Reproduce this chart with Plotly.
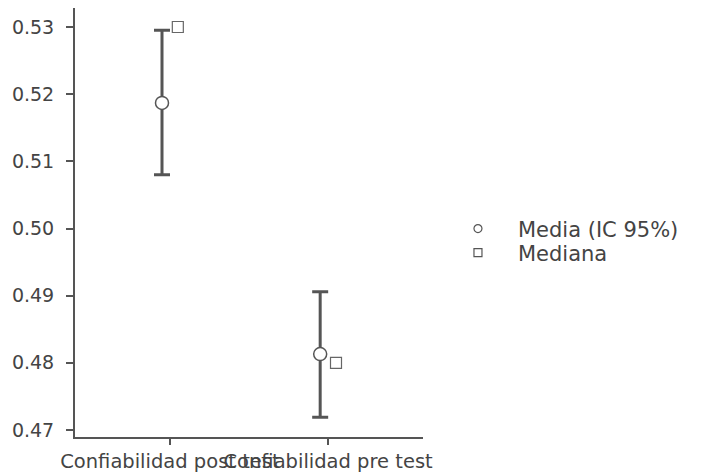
import plotly.graph_objects as go
import numpy as np

categories = ["Confiabilidad post test", "Confiabilidad pre test"]
media = [0.5187, 0.4813]
ic_upper = [0.5295, 0.4906]
ic_lower = [0.5080, 0.4719]
mediana = [0.530, 0.480]
ytick_vals = [0.47, 0.48, 0.49, 0.50, 0.51, 0.52, 0.53]
ytick_text = ["0.47", "0.48", "0.49", "0.50", "0.51", "0.52", "0.53"]

idx = np.arange(len(categories))
err_plus = [u - m for u, m in zip(ic_upper, media)]
err_minus = [m - l for m, l in zip(media, ic_lower)]

FONT = "DejaVu Sans"
TXT = "#444444"
AX = "#555555"

fig = go.Figure()
fig.add_trace(go.Scatter(
    x=idx - 0.05, y=media, mode="markers", showlegend=False,
    marker=dict(symbol="circle", size=13, color="white", line=dict(color=AX, width=1.5)),
    error_y=dict(type="data", symmetric=False, array=err_plus, arrayminus=err_minus,
                 color=AX, thickness=3, width=8),
))
fig.add_trace(go.Scatter(
    x=idx + 0.05, y=mediana, mode="markers", showlegend=False,
    marker=dict(symbol="square", size=11, color="white", line=dict(color="#666666", width=1.2)),
))
# legend entries
fig.add_trace(go.Scatter(
    x=[None], y=[None], mode="markers", name="Media (IC 95%)", legend="legend",
    marker=dict(symbol="circle", size=8, color="white", line=dict(color="#555555", width=1.2)),
))
fig.add_trace(go.Scatter(
    x=[None], y=[None], mode="markers", name="Mediana", legend="legend2",
    marker=dict(symbol="square", size=8, color="white", line=dict(color="#555555", width=1.2)),
))

leg_common = dict(xanchor="left", yanchor="middle",
                  font=dict(family=FONT, size=21, color=TXT),
                  bgcolor="rgba(0,0,0,0)", itemwidth=70)

fig.update_layout(
    width=720, height=465,
    margin=dict(l=67, r=305, t=0, b=36, autoexpand=False),
    paper_bgcolor="white", plot_bgcolor="white",
    font=dict(family=FONT, color=TXT, size=19),
    legend=dict(x=1.043, y=0.485, **leg_common),
    legend2=dict(x=1.043, y=0.429, **leg_common),
)
fig.update_xaxes(
    range=[-0.6, 1.6], tickvals=idx, ticktext=categories, tickangle=0, automargin=False,
    showline=True, linecolor=AX, linewidth=2, showgrid=False, zeroline=False,
    ticks="outside", ticklen=6, tickwidth=2, tickcolor=AX,
    tickfont=dict(family=FONT, size=19.5, color=TXT),
)
fig.update_yaxes(
    range=[0.46896, 0.532828], tickvals=ytick_vals, ticktext=ytick_text, automargin=False,
    showline=True, linecolor=AX, linewidth=2, showgrid=False, zeroline=False,
    ticks="outside", ticklen=7, tickwidth=2, tickcolor=AX, ticklabelstandoff=8,
    tickfont=dict(family=FONT, size=19, color=TXT),
)

fig.write_html("out.html")
